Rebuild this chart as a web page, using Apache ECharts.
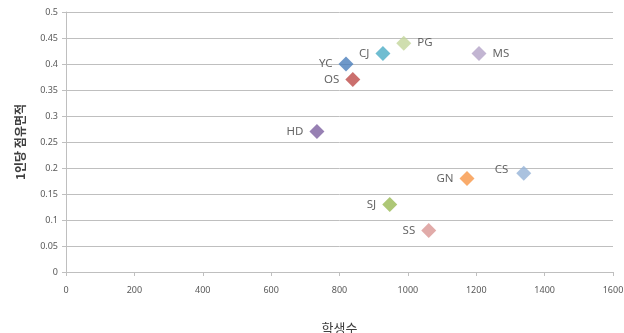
<!DOCTYPE html>
<html>
<head>
<meta charset="utf-8">
<script src="https://cdn.jsdelivr.net/npm/echarts@6/dist/echarts.min.js"></script>
<style>
  html, body { margin: 0; padding: 0; background: #fff; }
  #chart { width: 624px; height: 333px; }
</style>
</head>
<body>
<div id="chart"></div>
<script>
  // 학교별 학생수 / 1인당 점유면적
  var schools = ['YC', 'CJ', 'PG', 'MS', 'OS', 'HD', 'GN', 'CS', 'SJ', 'SS'];
  var students = [819, 927, 988, 1208, 839, 734, 1173, 1339, 947, 1061];
  var areaPerPerson = [0.40, 0.42, 0.44, 0.42, 0.37, 0.27, 0.18, 0.19, 0.13, 0.08];

  var colors = ['#4a7ebb', '#4bacc6', '#c3d69b', '#b3a2c7', '#be4b48',
                '#7d60a0', '#f79646', '#95b3d7', '#98b954', '#d99694'];
  var labelSide = { PG: 'right', MS: 'right' };

  var chart = echarts.init(document.getElementById('chart'));
  var series = schools.map(function (name, i) {
    var side = labelSide[name] || 'left';
    return {
      name: name,
      type: 'scatter',
      symbol: 'diamond',
      symbolSize: 15,
      itemStyle: { color: colors[i] },
      label: {
        show: true,
        formatter: name,
        position: side,
        distance: name === 'CS' ? 8 : 6,
        offset: name === 'CS' ? [0, -3] : [0, 0],
        color: '#404040',
        fontSize: 11.5,
        fontFamily: 'Noto Sans'
      },
      data: [[students[i], areaPerPerson[i]]]
    };
  });

  chart.setOption({
    animation: false,
    textStyle: { fontFamily: 'Noto Sans CJK KR' },
    grid: { left: 66, right: 11, top: 12, bottom: 61, outerBoundsMode: 'none' },
    xAxis: {
      type: 'value',
      min: 0,
      max: 1600,
      interval: 200,
      name: '학생수',
      nameLocation: 'middle',
      nameGap: 50,
      nameTextStyle: { fontSize: 13, color: '#404040', fontFamily: 'Noto Sans CJK KR' },
      axisLine: { show: true, lineStyle: { color: '#bfbfbf' } },
      axisTick: { show: true, length: 4, lineStyle: { color: '#bfbfbf' } },
      axisLabel: {
        fontSize: 9, color: '#595959', margin: 14, fontFamily: 'Noto Sans',
        formatter: function (v) { return String(v); }
      },
      splitLine: { show: false }
    },
    yAxis: {
      type: 'value',
      min: 0,
      max: 0.5,
      interval: 0.05,
      name: '1인당 점유면적',
      nameLocation: 'middle',
      nameGap: 40,
      nameRotate: 90,
      nameTextStyle: { fontSize: 12, fontWeight: 'bold', color: '#404040', fontFamily: 'Noto Sans CJK KR' },
      axisLine: { show: true, lineStyle: { color: '#bfbfbf' } },
      axisTick: { show: true, length: 4, lineStyle: { color: '#bfbfbf' } },
      axisLabel: { fontSize: 9, color: '#595959', margin: 8, fontFamily: 'Noto Sans' },
      splitLine: { show: true, lineStyle: { color: '#bfbfbf' } }
    },
    series: series
  });
</script>
</body>
</html>
